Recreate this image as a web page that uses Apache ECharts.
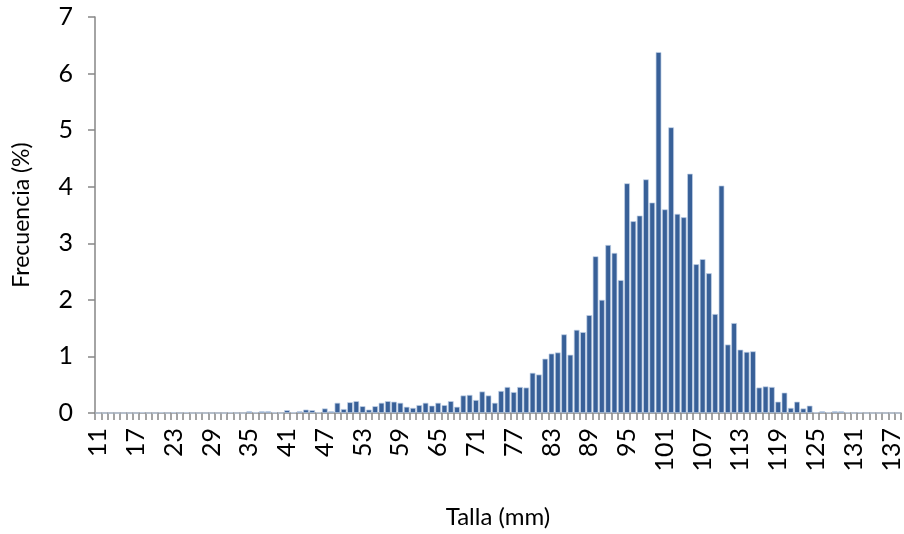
<!DOCTYPE html>
<html>
<head>
<meta charset="utf-8">
<script src="https://cdn.jsdelivr.net/npm/echarts@6/dist/echarts.min.js"></script>
<style>html,body{margin:0;padding:0;background:#fff;}#c{width:904px;height:534px;}</style>
</head>
<body>
<div id="c"></div>
<script>
const categories = [11,12,13,14,15,16,17,18,19,20,21,22,23,24,25,26,27,28,29,30,
31,32,33,34,35,36,37,38,39,40,41,42,43,44,45,46,47,48,49,50,
51,52,53,54,55,56,57,58,59,60,61,62,63,64,65,66,67,68,69,70,
71,72,73,74,75,76,77,78,79,80,81,82,83,84,85,86,87,88,89,90,
91,92,93,94,95,96,97,98,99,100,101,102,103,104,105,106,107,108,109,110,
111,112,113,114,115,116,117,118,119,120,121,122,123,124,125,126,127,128,129,130,
131,132,133,134,135,136,137,138];
const frecuencia = [0,0,0,0,0,0,0,0.01,0,0,0.01,0,0.01,0,0.01,0,0,0,0,0,
0,0.01,0,0,0.03,0.01,0.03,0.03,0.01,0,0.05,0.01,0.03,0.06,0.05,0.01,0.08,0.03,0.18,0.07,
0.19,0.21,0.12,0.06,0.12,0.18,0.21,0.20,0.18,0.11,0.09,0.14,0.18,0.13,0.18,0.14,0.21,0.11,0.31,0.32,
0.23,0.38,0.31,0.18,0.39,0.46,0.37,0.46,0.45,0.71,0.68,0.96,1.05,1.07,1.39,1.03,1.47,1.43,1.73,2.77,
2.00,2.97,2.83,2.35,4.06,3.39,3.49,4.13,3.72,6.38,3.60,5.05,3.52,3.46,4.23,2.63,2.72,2.47,1.75,4.02,
1.21,1.59,1.12,1.08,1.09,0.45,0.47,0.46,0.20,0.36,0.09,0.20,0.08,0.13,0.01,0.03,0.01,0.03,0.03,0.01,
0,0.01,0,0,0,0,0,0];
const yTicks = [0,1,2,3,4,5,6,7];
const xTitle = 'Talla (mm)';
const yTitle = 'Frecuencia (%)';

const font = 'Lato, "Open Sans", sans-serif';
const chart = echarts.init(document.getElementById('c'), null, {renderer:'canvas'});
chart.setOption({
  animation: false,
  grid: {left: 95, right: 1, top: 17, bottom: 120, containLabel: false},
  xAxis: {
    type: 'category',
    data: categories.map(String),
    name: xTitle,
    nameLocation: 'middle',
    nameGap: 92,
    nameTextStyle: {fontFamily: font, fontSize: 24, color: '#000'},
    axisLine: {lineStyle: {color: '#868686', width: 1.5}},
    axisTick: {show: true, interval: 0, length: 7, lineStyle: {color: '#868686', width: 1.5}},
    axisLabel: {interval: 5, rotate: 90, margin: 15, fontFamily: font, fontSize: 25, color: '#000'},
    splitLine: {show: false}
  },
  yAxis: {
    type: 'value',
    min: yTicks[0],
    max: yTicks[yTicks.length - 1],
    interval: 1,
    name: yTitle,
    nameLocation: 'middle',
    nameGap: 62,
    nameRotate: 90,
    nameTextStyle: {fontFamily: font, fontSize: 23, color: '#000'},
    axisLine: {show: true, lineStyle: {color: '#868686', width: 1.5}},
    axisTick: {show: true, length: 7, lineStyle: {color: '#868686', width: 1.5}},
    axisLabel: {margin: 22, fontFamily: font, fontSize: 25, color: '#000'},
    splitLine: {show: false}
  },
  series: [{
    type: 'bar',
    data: frecuencia,
    barCategoryGap: '10%',
    itemStyle: {color: '#386098', borderColor: '#c3d3e8', borderWidth: 0.7}
  }]
});
</script>
</body>
</html>
